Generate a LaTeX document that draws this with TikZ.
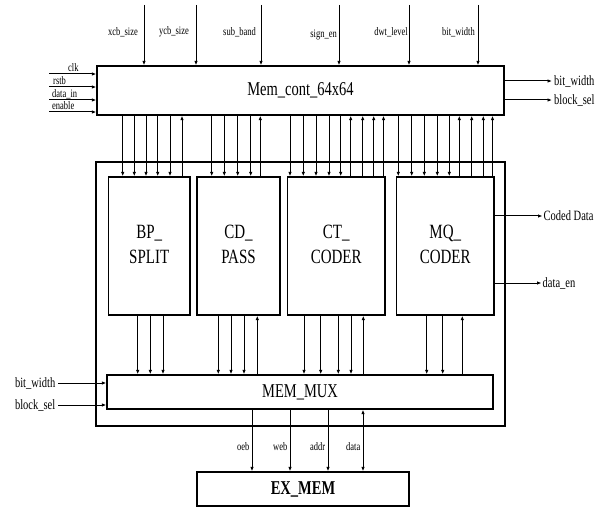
\documentclass[tikz,border=0pt]{standalone}
\usepackage{fontspec}
\setmainfont{Liberation Serif}
\usetikzlibrary{arrows.meta}
\newcommand\vs[1]{\scalebox{1}[1.35]{#1}}
\begin{document}
\begin{tikzpicture}[x=1pt,y=-1pt,
  box/.style={draw, line width=1.3pt, inner sep=0pt},
  arr/.style={line width=1pt, -{Latex[length=4.5pt,width=3.5pt]}},
  barr/.style={line width=1pt, {Latex[length=4.5pt,width=3.5pt]}-{Latex[length=4.5pt,width=3.5pt]}},
  sml/.style={font=\fontsize{8.5}{10}\selectfont, inner sep=0pt},
  mid/.style={font=\fontsize{10.5}{12}\selectfont, inner sep=0pt},
  big/.style={font=\fontsize{14.5}{17}\selectfont},
  blk/.style={font=\fontsize{15}{18}\selectfont},
]
\useasboundingbox (0,0) rectangle (603,508);

% boxes
\node[box, minimum width=407pt, minimum height=49pt, big] (mc) at (300.5,90.5) {\vs{Mem\_cont\_64x64}};
\node[box, minimum width=409pt, minimum height=264pt] (outer) at (300.5,294) {};
\node[box, minimum width=81.5pt, minimum height=138pt, blk] (bp) at (149.25,246) {\vs{\begin{tabular}{@{}c@{}}BP\_\\SPLIT\end{tabular}}};
\node[box, minimum width=83pt, minimum height=138pt, blk] (cd) at (238.5,246) {\vs{\begin{tabular}{@{}c@{}}CD\_\\PASS\end{tabular}}};
\node[box, minimum width=97.5pt, minimum height=138pt, blk] (ct) at (336.25,246) {\vs{\begin{tabular}{@{}c@{}}CT\_\\CODER\end{tabular}}};
\node[box, minimum width=97.5pt, minimum height=138pt, blk] (mq) at (445.25,246) {\vs{\begin{tabular}{@{}c@{}}MQ\_\\CODER\end{tabular}}};
\node[box, minimum width=386pt, minimum height=34pt, big] (mux) at (300,392) {\vs{MEM\_MUX}};
\node[box, minimum width=212pt, minimum height=34pt, big] (ex) at (303,489) {\vs{\textbf{EX\_MEM}}};

% top inputs
\foreach \x/\lx/\ly/\t in {144/138/32/xcb\_size, 196/189/32/ycb\_size, 261/256/32/sub\_band,
    339/337/35/sign\_en, 409/408/32/dwt\_level, 478/475/32/bit\_width}{
  \coordinate (top\x) at (\x,5);
  \draw[arr] (top\x) -- (mc.north -| \x,0);
  \node[sml, anchor=east] at (\lx,\ly) {\vs{\t}};
}

% left inputs of mc
\foreach \y/\t/\lx in {74/clk/68, 87/rstb/53, 100/data\_in/52, 112/enable/52}{
  \coordinate (in\y) at (49,\y);
  \draw[arr] (in\y) -- (mc.west |- 0,\y);
  \node[sml, anchor=base west] at (\lx,\y-2.5) {\vs{\t}};
}

% right outputs of mc
\foreach \y/\t in {81/bit\_width, 100/block\_sel}{
  \coordinate (out\y) at (552,\y);
  \draw[arr] (mc.east |- 0,\y) -- (out\y);
  \node[mid, anchor=west] at (554,\y) {\vs{\t}};
}

% mc <-> blocks
\foreach \x in {122.7,134.3,146,157.7,170} \draw[arr] (mc.south -| \x,0) -- (bp.north -| \x,0);
\foreach \x in {182} \draw[arr] (bp.north -| \x,0) -- (mc.south -| \x,0);
\foreach \x in {211.7,224.3,237.7,250.7} \draw[arr] (mc.south -| \x,0) -- (cd.north -| \x,0);
\foreach \x in {260.3} \draw[arr] (cd.north -| \x,0) -- (mc.south -| \x,0);
\foreach \x in {290,303.3,316,329,340.7} \draw[arr] (mc.south -| \x,0) -- (ct.north -| \x,0);
\foreach \x in {350.7,362.7,373.7,383.5} \draw[arr] (ct.north -| \x,0) -- (mc.south -| \x,0);
\foreach \x in {398.3,411.7,424.3,437.3,449.3} \draw[arr] (mc.south -| \x,0) -- (mq.north -| \x,0);
\foreach \x in {459.3,471.7,483.3,492.5} \draw[arr] (mq.north -| \x,0) -- (mc.south -| \x,0);

% blocks <-> mux
\foreach \x in {137.7,150.3,163} \draw[arr] (bp.south -| \x,0) -- (mux.north -| \x,0);
\foreach \x in {218.3,231,244} \draw[arr] (cd.south -| \x,0) -- (mux.north -| \x,0);
\foreach \x in {257.3} \draw[arr] (mux.north -| \x,0) -- (cd.south -| \x,0);
\foreach \x in {304,320.7,338.3,351} \draw[arr] (ct.south -| \x,0) -- (mux.north -| \x,0);
\foreach \x in {363.3} \draw[arr] (mux.north -| \x,0) -- (ct.south -| \x,0);
\foreach \x in {426.7,442.7} \draw[arr] (mq.south -| \x,0) -- (mux.north -| \x,0);
\foreach \x in {462.3} \draw[arr] (mux.north -| \x,0) -- (mq.south -| \x,0);

% mq outputs
\foreach \y/\t/\e in {216/Coded Data/542.5, 283/data\_en/541.5}{
  \coordinate (mqo\y) at (\e,\y);
  \draw[arr] (mq.east |- 0,\y) -- (mqo\y);
  \node[mid, anchor=west] at (\e+1,\y) {\vs{\t}};
}

% mux left inputs
\foreach \y/\t in {383/bit\_width, 405/block\_sel}{
  \coordinate (mi\y) at (58,\y);
  \draw[arr] (mi\y) -- (mux.west |- 0,\y);
  \node[mid, anchor=east] at (55.5,\y) {\vs{\t}};
}

% mux -> ex_mem
\foreach \x/\t in {252/oeb, 290/web, 328/addr}{
  \draw[arr] (mux.south -| \x,0) -- (ex.north -| \x,0);
  \node[sml, anchor=east] at (\x-2.5,446.5) {\vs{\t}};
}
\draw[barr] (mux.south -| 363,0) -- (ex.north -| 363,0);
\node[sml, anchor=east] at (360.5,446.5) {\vs{data}};
\end{tikzpicture}
\end{document}
